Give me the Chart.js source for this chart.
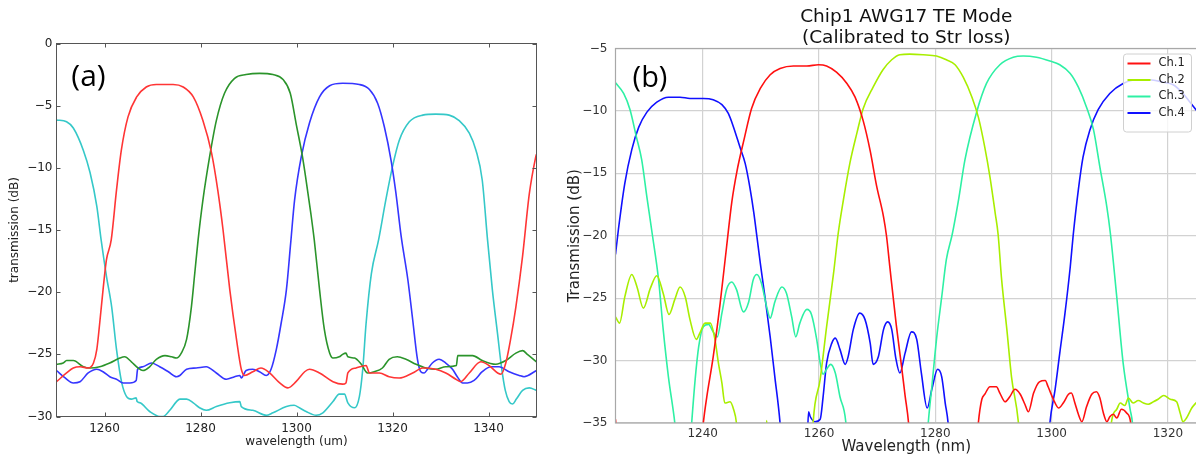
<!DOCTYPE html>
<html><head><meta charset="utf-8">
<script src="https://cdn.jsdelivr.net/npm/chart.js@4.4.1/dist/chart.umd.min.js"></script>
<style>
html,body{margin:0;padding:0;background:#fff;overflow:hidden;width:1196px;height:459px;position:relative;}
#wa{position:absolute;left:0;top:0;width:560px;height:459px;}
#wb{position:absolute;left:560px;top:0;width:640px;height:459px;}
</style></head><body>
<div id="wa"><canvas id="ca" width="560" height="459"></canvas></div>
<div id="wb"><canvas id="cb" width="640" height="459"></canvas></div>
<script>
// ---------- Panel (a) data: [wavelength, dB] ----------
const A_XTICKS = [1260, 1280, 1300, 1320, 1340];
const A_YTICKS = [0, -5, -10, -15, -20, -25, -30];
const A_RED = [[1250,-27.2],[1252.1,-26.5],[1253.5,-26.1],[1254.9,-26.0],[1256.6,-26.1],[1257.7,-25.7],[1258.4,-24.6],[1259,-22.5],[1259.7,-19.8],[1260.4,-17.4],[1261.4,-15.8],[1262.5,-11.8],[1263.5,-8.6],[1264.9,-5.9],[1266.7,-4.3],[1268.7,-3.5],[1270.8,-3.3],[1274.3,-3.3],[1276.4,-3.5],[1278.5,-4.3],[1280.5,-6.2],[1282.3,-8.8],[1283.6,-11.8],[1284.7,-15.0],[1286.1,-19.8],[1287.5,-23.8],[1288.5,-26.2],[1289.2,-26.7],[1290.9,-26.4],[1292.6,-26.1],[1294.4,-26.5],[1296.5,-27.3],[1298.2,-27.7],[1299.9,-27.2],[1301.7,-26.4],[1302.7,-26.2],[1304.8,-26.5],[1307.6,-27.2],[1309.6,-27.4],[1310.3,-27.3],[1310.7,-26.5],[1312.4,-26.1],[1314.5,-25.9],[1315.2,-26.5],[1317.3,-26.5],[1319.3,-26.8],[1321.4,-26.9],[1324.2,-26.5],[1326.3,-26.1],[1329,-26.2],[1331.1,-26.5],[1333.2,-27.0],[1334.2,-27.2],[1336,-26.5],[1338.4,-25.6],[1340.1,-25.9],[1341.9,-26.5],[1342.6,-26.6],[1343.6,-25.7],[1344.6,-23.8],[1345.7,-21.2],[1347.1,-17.1],[1348.5,-12.1],[1349.8,-9.2],[1350,-8.9]];
const A_GREEN = [[1250,-25.8],[1251.4,-25.7],[1252.1,-25.5],[1253.5,-25.5],[1255.6,-26.0],[1257,-26.1],[1259,-26.0],[1261.1,-25.7],[1263.2,-25.3],[1264.2,-25.2],[1265.6,-25.6],[1267,-26.1],[1268,-26.3],[1269.4,-26.0],[1270.8,-25.4],[1272.6,-25.1],[1274,-25.2],[1275,-25.3],[1276,-24.9],[1277.1,-23.8],[1278.1,-21.2],[1278.8,-18.5],[1279.5,-15.8],[1280.5,-12.6],[1281.9,-9.1],[1283.3,-6.2],[1285,-4.0],[1287.1,-2.8],[1289.5,-2.5],[1292.3,-2.4],[1295.1,-2.5],[1297.2,-2.9],[1298.7,-4.0],[1300,-6.6],[1301.2,-9.0],[1302,-11.0],[1303,-13.7],[1303.7,-15.8],[1304.8,-19.8],[1305.8,-23.0],[1306.9,-24.9],[1307.6,-25.3],[1308.9,-25.2],[1309.6,-25.0],[1310.3,-24.9],[1310.7,-25.2],[1312.1,-25.3],[1313.5,-25.8],[1314.8,-26.5],[1316.2,-26.4],[1317.9,-26.1],[1319.3,-25.4],[1321,-25.2],[1322.8,-25.4],[1324.9,-25.8],[1327,-26.1],[1329,-26.2],[1331.1,-26.0],[1333.3,-25.9],[1333.6,-25.1],[1336.7,-25.1],[1338.7,-25.5],[1341.5,-25.8],[1343.6,-25.5],[1345.7,-24.9],[1347.1,-24.7],[1348.1,-25.0],[1350,-25.6]];
const A_BLUE = [[1250,-26.3],[1251.8,-26.9],[1253.5,-27.3],[1254.9,-27.2],[1256.6,-26.5],[1258.4,-26.2],[1259.7,-26.4],[1261.1,-26.8],[1262.5,-27.0],[1263.9,-27.3],[1265.3,-27.3],[1266.6,-27.1],[1266.9,-26.2],[1268,-26.0],[1269.8,-25.7],[1271.5,-26.0],[1273.3,-26.4],[1275,-26.8],[1275.7,-26.7],[1277.1,-26.2],[1279.1,-26.1],[1281.2,-26.0],[1283.3,-26.5],[1285.4,-27.0],[1287.1,-26.8],[1288.2,-26.7],[1288.5,-26.9],[1289.5,-26.3],[1290.9,-26.2],[1292.3,-26.4],[1293.7,-26.7],[1294.7,-26.2],[1295.8,-24.6],[1296.8,-22.5],[1297.9,-19.8],[1298.8,-16.0],[1299.6,-12.6],[1301,-9.1],[1302.7,-6.4],[1304.8,-4.3],[1306.9,-3.4],[1309.6,-3.2],[1313.1,-3.3],[1315.2,-3.7],[1316.9,-4.8],[1318.3,-6.7],[1319.7,-9.4],[1320.7,-12.0],[1321.8,-15.5],[1323.2,-19.0],[1324.2,-22.2],[1325.2,-25.4],[1325.9,-26.4],[1326.6,-26.5],[1327.3,-26.2],[1328.3,-25.7],[1329.7,-25.4],[1331.1,-25.7],[1332.5,-26.2],[1333.5,-26.8],[1334.6,-27.3],[1335.6,-27.3],[1337,-27.1],[1338.7,-26.4],[1340.5,-26.0],[1342.2,-26.0],[1344.3,-26.4],[1346.4,-26.7],[1347.4,-26.8],[1350,-26.3]];
const A_CYAN = [[1250,-6.15],[1252.1,-6.3],[1253.5,-6.8],[1255.6,-8.6],[1257,-10.4],[1258.4,-13.1],[1259.3,-15.8],[1260.4,-18.7],[1261.5,-21.2],[1262.5,-24.6],[1263.6,-27.3],[1264.6,-28.4],[1265.6,-28.6],[1266.6,-28.5],[1266.8,-28.8],[1267.4,-28.9],[1269.4,-29.6],[1271.5,-30.0],[1272.2,-30.0],[1273.6,-29.5],[1275,-28.8],[1275.7,-28.6],[1277.1,-28.6],[1278.5,-28.9],[1279.8,-29.3],[1281.2,-29.5],[1283.3,-29.2],[1286.1,-28.9],[1288.2,-28.8],[1288.5,-29.2],[1290.9,-29.5],[1293.7,-29.9],[1295.1,-29.7],[1297.9,-29.2],[1299.5,-29.1],[1300.6,-29.3],[1302,-29.6],[1304.1,-29.9],[1305.5,-29.7],[1307.6,-28.8],[1308.9,-28.2],[1310,-28.2],[1310.7,-28.9],[1312.1,-29.3],[1313.1,-28.4],[1313.8,-26.2],[1314.5,-22.5],[1315.6,-18.5],[1317.1,-15.8],[1318.6,-12.6],[1320,-9.9],[1321.4,-7.8],[1323.5,-6.3],[1326.3,-5.76],[1329,-5.68],[1331.8,-5.76],[1333.9,-6.2],[1336,-7.2],[1337.4,-8.6],[1338.7,-11],[1339.8,-15.8],[1340.8,-19.8],[1341.9,-23.4],[1342.7,-26.0],[1343.5,-27.9],[1344.3,-28.8],[1345.0,-29.0],[1345.8,-28.6],[1347.1,-27.9],[1348.5,-27.7],[1350,-27.9]];

// ---------- Panel (b) data: [wavelength, dB] ----------
const B_XTICKS = [1240, 1260, 1280, 1300, 1320];
const B_YTICKS = [-5, -10, -15, -20, -25, -30, -35];
const B_LABELS = ['Ch.1', 'Ch.2', 'Ch.3', 'Ch.4'];
const B_CH1 = [[1225,-34.7],[1225.4,-37],[1239.7,-37],[1240.1,-35],[1240.7,-32.9],[1241.8,-29.7],[1243,-25.4],[1244.1,-20.9],[1245,-17.3],[1245.9,-14.8],[1247.1,-12.3],[1248.4,-9.8],[1249.9,-8.2],[1251.6,-7.1],[1253.3,-6.6],[1255.6,-6.4],[1257.9,-6.4],[1259.9,-6.3],[1261.3,-6.4],[1263,-6.9],[1264.8,-7.8],[1266.2,-8.9],[1267.6,-10.8],[1268.8,-13.2],[1269.9,-16.0],[1271.1,-18.5],[1271.6,-20.0],[1272.2,-22.6],[1273.3,-27.2],[1274.2,-30.5],[1274.8,-32.8],[1275.4,-35],[1275.7,-37],[1287.1,-37],[1287.4,-35],[1288,-33.1],[1288.5,-32.7],[1289.4,-32.1],[1290.5,-32.1],[1291.1,-32.6],[1292,-33.3],[1292.8,-32.9],[1293.7,-32.3],[1294.6,-32.7],[1295.4,-33.5],[1296,-34.1],[1296.9,-32.6],[1297.9,-31.7],[1298.9,-31.6],[1299.4,-32.1],[1300.3,-33.1],[1301.2,-33.8],[1302,-33.4],[1302.9,-32.7],[1303.4,-32.6],[1304,-33.4],[1304.6,-34.3],[1305.2,-34.9],[1306,-33.7],[1306.9,-32.7],[1307.7,-32.5],[1308.3,-33.0],[1308.9,-34.2],[1309.5,-34.9],[1310,-34.5],[1310.6,-34.3],[1311.2,-34.6],[1312,-33.9],[1312.9,-34.2],[1313.6,-35],[1313.9,-37]];
const B_CH2 = [[1225,-26.5],[1225.7,-27.0],[1226.6,-24.9],[1227.8,-23.1],[1228.7,-24.1],[1229.8,-25.8],[1231,-24.2],[1232.1,-23.2],[1233.2,-24.6],[1234.2,-26.3],[1235.2,-25.1],[1236.1,-24.1],[1237,-24.9],[1237.8,-26.7],[1238.9,-28.3],[1239.5,-27.8],[1240.4,-27.0],[1241.3,-27.0],[1242.1,-28.3],[1242.7,-30.2],[1243.3,-31.8],[1243.8,-33.4],[1244.7,-33.3],[1245.3,-33.9],[1245.8,-35],[1246.1,-37],[1250.8,-37],[1251,-34.8],[1251.2,-37],[1258.8,-37],[1259,-34.9],[1260.2,-31.5],[1261.3,-27.3],[1262.5,-23.0],[1263.3,-19.8],[1264.2,-17.1],[1265.3,-14.2],[1266.5,-11.8],[1267.6,-9.8],[1269.3,-8.1],[1271,-6.7],[1272.5,-5.9],[1273.9,-5.5],[1275.6,-5.45],[1277.9,-5.5],[1280.2,-5.6],[1281.9,-5.9],[1283.4,-6.3],[1284.8,-7.3],[1286.3,-8.9],[1287.4,-10.5],[1288.5,-12.9],[1289.4,-15.3],[1290.3,-18.2],[1290.8,-19.9],[1291.4,-23.5],[1292.3,-27.5],[1293.1,-31.3],[1294.3,-35],[1294.6,-37],[1310,-37],[1310.3,-34.9],[1311.2,-33.9],[1311.8,-33.4],[1312.6,-33.6],[1313.2,-33],[1314,-33.4],[1314.9,-33.2],[1315.8,-33.4],[1316.6,-33.5],[1317.5,-33.3],[1318.3,-33.1],[1319.3,-32.8],[1320.4,-33.1],[1321.5,-33.3],[1322.1,-34.2],[1322.6,-34.9],[1323.2,-34.6],[1324.1,-33.8],[1324.8,-33.4],[1325,-33.3]];
const B_CH3 = [[1225,-7.75],[1226.4,-8.6],[1227.5,-9.9],[1228.6,-12.1],[1229.5,-13.9],[1230.4,-16.9],[1231.3,-19.8],[1232.4,-23.5],[1233.2,-27.5],[1234.1,-31.3],[1235.2,-35],[1235.6,-37],[1237.8,-37],[1238.1,-35],[1238.7,-31.5],[1239.3,-28.9],[1240.1,-27.3],[1241,-27.1],[1241.8,-27.7],[1242.5,-28.1],[1243.3,-26.2],[1244.1,-24.3],[1245,-23.7],[1245.8,-24.3],[1247,-26.1],[1247.9,-25.3],[1248.7,-23.5],[1249.3,-23.1],[1250.1,-23.8],[1251,-25.7],[1251.6,-26.6],[1252.4,-25.3],[1253.6,-24.1],[1254.4,-24.6],[1255.3,-26.5],[1256,-28.1],[1256.7,-27.0],[1257.9,-25.9],[1258.7,-26.3],[1259.6,-28.3],[1260.2,-30.2],[1260.7,-31.1],[1261.3,-30.7],[1262,-30.3],[1262.8,-31.0],[1263.6,-32.9],[1264.6,-34.9],[1264.9,-37],[1278.5,-37],[1278.8,-34.9],[1279.4,-32.1],[1280.2,-28.3],[1281.1,-24.9],[1281.9,-21.9],[1282.9,-19.9],[1284,-17.1],[1285.1,-13.9],[1287.1,-10.1],[1288.8,-7.8],[1291.1,-6.3],[1293.4,-5.7],[1295.1,-5.6],[1297.4,-5.7],[1299.7,-6.0],[1301.4,-6.3],[1303.2,-7.0],[1304.6,-8.1],[1306,-9.7],[1307.2,-11.5],[1308.3,-14.5],[1309.5,-17.7],[1310.1,-19.8],[1311.2,-24.9],[1312.3,-30.2],[1313.5,-33.9],[1313.9,-35],[1314.2,-37]];
const B_CH4 = [[1225,-21.5],[1225.5,-19.5],[1226.6,-15.8],[1227.8,-13.1],[1229,-11.3],[1230.4,-10.1],[1232.1,-9.3],[1234.1,-8.9],[1236.1,-8.9],[1237.8,-9.0],[1240.1,-9.0],[1241.8,-9.1],[1243.3,-9.5],[1244.4,-10.2],[1245.3,-11.3],[1246.4,-12.9],[1247.3,-14.2],[1248.1,-16.1],[1248.8,-18.2],[1249.3,-20.0],[1249.9,-22.2],[1250.7,-24.9],[1251.6,-28.1],[1252.4,-31.3],[1253.3,-35],[1253.6,-37],[1257.9,-37],[1258.2,-34.1],[1258.5,-34.5],[1259.3,-34.9],[1260.2,-34.7],[1260.7,-32.9],[1261.3,-30.2],[1262.2,-28.6],[1262.8,-28.2],[1263.6,-29.1],[1264.5,-30.3],[1265,-29.7],[1265.9,-27.5],[1267,-26.2],[1267.9,-26.7],[1268.8,-28.6],[1269.3,-30.3],[1270.2,-29.7],[1271.1,-27.5],[1271.8,-26.9],[1272.5,-27.5],[1273.2,-29.8],[1273.9,-31.0],[1274.8,-29.4],[1275.9,-27.7],[1276.8,-28.3],[1277.6,-31.0],[1278.6,-33.8],[1279.4,-32.3],[1280.4,-30.7],[1281.1,-31.3],[1281.7,-33.4],[1282.2,-35],[1282.5,-37],[1299.4,-37],[1299.7,-35],[1300.6,-32.3],[1301.4,-29.4],[1302.3,-26.2],[1303.2,-22.5],[1303.7,-20.0],[1304.6,-16.3],[1305.4,-13.7],[1306.6,-11.5],[1308,-9.9],[1310,-8.6],[1312.3,-7.8],[1314.6,-7.5],[1316.9,-7.5],[1319.2,-7.7],[1320.9,-7.9],[1322.6,-8.6],[1323.8,-9.3],[1325,-10.0]];

// ---------- helpers ----------
const toXY = arr => arr.map(p => ({x: p[0], y: p[1]}));
const fmt = v => String(v).replace('-', '\u2212');
const FONT = 'DejaVu Sans';

const panelLabel = (txt, dx, dy, size) => ({
  id: 'panelLabel',
  afterDraw(chart) {
    const {ctx, chartArea: a} = chart;
    ctx.save();
    ctx.font = size + 'px "Open Sans"';
    ctx.fillStyle = '#000';
    ctx.textAlign = 'center';
    ctx.textBaseline = 'middle';
    ctx.fillText(txt, a.left + dx, a.top + dy);
    ctx.restore();
  }
});

const frameA = {
  id: 'frameA',
  afterDatasetsDraw(chart) {
    const {ctx, chartArea: a, scales: {x, y}} = chart;
    ctx.save();
    ctx.strokeStyle = '#555';
    ctx.lineWidth = 1;
    ctx.strokeRect(a.left, a.top, a.right - a.left, a.bottom - a.top);
    ctx.beginPath();
    const L = 4;
    x.ticks.forEach(t => {
      const px = Math.round(x.getPixelForValue(t.value)) + 0.5;
      ctx.moveTo(px, a.bottom); ctx.lineTo(px, a.bottom - L);
      ctx.moveTo(px, a.top); ctx.lineTo(px, a.top + L);
    });
    y.ticks.forEach(t => {
      const py = Math.round(y.getPixelForValue(t.value)) + 0.5;
      ctx.moveTo(a.left, py); ctx.lineTo(a.left + L, py);
      ctx.moveTo(a.right, py); ctx.lineTo(a.right - L, py);
    });
    ctx.stroke();
    ctx.restore();
  }
};

const frameB = {
  id: 'frameB',
  afterDatasetsDraw(chart) {
    const {ctx, chartArea: a} = chart;
    ctx.save();
    ctx.strokeStyle = '#a8a8a8';
    ctx.lineWidth = 1.2;
    ctx.strokeRect(a.left, a.top, a.right - a.left, a.bottom - a.top);
    ctx.restore();
  }
};

const legendB = {
  id: 'legendB',
  afterDraw(chart) {
    const {ctx, chartArea: a} = chart;
    const ds = chart.data.datasets;
    const right = a.right - 5.5, top = a.top + 5.5;
    const w = 68, rowH = 16.5, h = 10 + ds.length * rowH + 2;
    const left = right - w;
    ctx.save();
    ctx.fillStyle = 'rgba(255,255,255,0.8)';
    ctx.strokeStyle = '#d0d0d0';
    ctx.lineWidth = 1;
    ctx.beginPath();
    if (ctx.roundRect) ctx.roundRect(left, top, w, h, 3); else ctx.rect(left, top, w, h);
    ctx.fill(); ctx.stroke();
    ctx.font = '11.5px "' + FONT + '"';
    ctx.textBaseline = 'middle';
    ctx.textAlign = 'left';
    ds.forEach((d, i) => {
      const cy = top + 9.5 + i * rowH;
      ctx.strokeStyle = d.borderColor;
      ctx.lineWidth = 2;
      ctx.beginPath(); ctx.moveTo(left + 4, cy); ctx.lineTo(left + 27, cy); ctx.stroke();
      ctx.fillStyle = '#222';
      ctx.fillText(d.label, left + 35, cy);
    });
    ctx.restore();
  }
};

const lineDs = (label, arr, color) => ({
  label, data: toXY(arr), borderColor: color, backgroundColor: color,
  showLine: true, pointRadius: 0, borderWidth: 1.6, cubicInterpolationMode: 'monotone', fill: false
});

// ---------- Chart (a) ----------
new Chart(document.getElementById('ca'), {
  type: 'scatter',
  data: { datasets: [
    lineDs('red', A_RED, '#ff3535'),
    lineDs('green', A_GREEN, '#2b942b'),
    lineDs('blue', A_BLUE, '#3535ff'),
    lineDs('cyan', A_CYAN, '#35c8c8')
  ]},
  options: {
    responsive: false, animation: false, devicePixelRatio: 1, events: [],
    layout: { padding: { left: 0, right: 23.5, top: 43.5, bottom: 0 } },
    plugins: { legend: { display: false }, tooltip: { enabled: false }, title: { display: false } },
    scales: {
      x: {
        type: 'linear', min: 1250, max: 1350,
        grid: { display: false, drawTicks: false }, border: { display: false },
        afterBuildTicks: s => { s.ticks = A_XTICKS.map(v => ({ value: v })); },
        afterFit: s => { s.height = 42.5; },
        ticks: { padding: 5, maxRotation: 0, color: '#222', font: { family: FONT, size: 12 }, callback: v => fmt(v) },
        title: { display: true, text: 'wavelength (um)', color: '#222', font: { family: FONT, size: 12 }, padding: { top: 0, bottom: 10 } }
      },
      y: {
        type: 'linear', min: -30, max: 0,
        grid: { display: false, drawTicks: false }, border: { display: false },
        afterBuildTicks: s => { s.ticks = A_YTICKS.map(v => ({ value: v })); },
        afterFit: s => { s.width = 56.5; },
        ticks: { padding: 4, color: '#222', font: { family: FONT, size: 12 }, callback: v => fmt(v) },
        title: { display: true, text: 'transmission (dB)', color: '#222', font: { family: FONT, size: 12 }, padding: { top: 8, bottom: 0 } }
      }
    }
  },
  plugins: [frameA, panelLabel('(a)', 32, 34, 30)]
});

// ---------- Chart (b) ----------
new Chart(document.getElementById('cb'), {
  type: 'scatter',
  data: { datasets: [
    lineDs(B_LABELS[0], B_CH1, '#ff1010'),
    lineDs(B_LABELS[1], B_CH2, '#a8ee00'),
    lineDs(B_LABELS[2], B_CH3, '#2ef0a4'),
    lineDs(B_LABELS[3], B_CH4, '#1010ff')
  ]},
  options: {
    responsive: false, animation: false, devicePixelRatio: 1, events: [],
    layout: { padding: { left: 0, right: 3, top: 0, bottom: 0 } },
    plugins: {
      legend: { display: false }, tooltip: { enabled: false },
      title: {
        display: true, fullSize: false,
        text: ['Chip1 AWG17 TE Mode', '(Calibrated to Str loss)'],
        color: '#111', font: { family: FONT, size: 18.5, weight: 'normal', lineHeight: '21px' },
        padding: { top: 6.5, bottom: 0 }
      }
    },
    scales: {
      x: {
        type: 'linear', min: 1225, max: 1325,
        grid: { display: true, drawTicks: false, color: '#d2d2d2', lineWidth: 1.2 }, border: { display: false },
        afterBuildTicks: s => { s.ticks = B_XTICKS.map(v => ({ value: v })); },
        afterFit: s => { s.height = 36; },
        ticks: { padding: 4, maxRotation: 0, color: '#333', font: { family: FONT, size: 12 }, callback: v => fmt(v) },
        title: { display: true, text: 'Wavelength (nm)', color: '#222', font: { family: FONT, size: 15 }, padding: { top: 0, bottom: 3 } }
      },
      y: {
        type: 'linear', min: -35, max: -5,
        grid: { display: true, drawTicks: false, color: '#d2d2d2', lineWidth: 1.2 }, border: { display: false },
        afterBuildTicks: s => { s.ticks = B_YTICKS.map(v => ({ value: v })); },
        afterFit: s => { s.width = 55.5; },
        ticks: { padding: 8, color: '#333', font: { family: FONT, size: 12 }, callback: v => fmt(v) },
        title: { display: true, text: 'Transmission (dB)', color: '#222', font: { family: FONT, size: 15 }, padding: { top: 6, bottom: 0 } }
      }
    }
  },
  plugins: [frameB, legendB, panelLabel('(b)', 34.5, 30, 29)]
});
</script>
</body></html>
